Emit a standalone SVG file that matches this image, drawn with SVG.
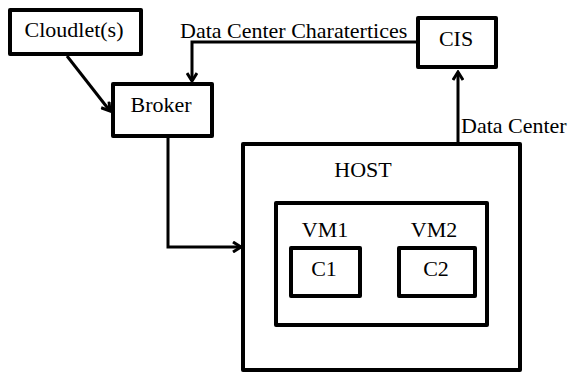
<svg xmlns="http://www.w3.org/2000/svg" width="568" height="374" viewBox="0 0 568 374">
  <style>
    .box { fill: #ffffff; stroke: #000000; stroke-width: 4; stroke-linejoin: round; }
    .lbl { font-size: 22px; fill: #000000; }
    .mid { text-anchor: middle; }
    .wire { fill: none; stroke: #000000; stroke-width: 3; }
  </style>
  <defs>
    <marker id="chev" viewBox="0 0 12 12" refX="10" refY="6" markerWidth="12" markerHeight="12" markerUnits="userSpaceOnUse" orient="auto">
      <path d="M2,1 L10,6 L2,11" fill="none" stroke="#000000" stroke-width="3" stroke-linejoin="miter"/>
    </marker>
  </defs>
  <rect width="568" height="374" fill="#ffffff"/>

  <g id="connectors">
    <!-- Cloudlet(s) to Broker -->
    <path class="wire" d="M67,56 L110,111" marker-end="url(#chev)"/>
    <!-- CIS back to Broker -->
    <path class="wire" d="M417,42 L192,42 L192,81" marker-end="url(#chev)"/>
    <!-- HOST up to CIS -->
    <path class="wire" d="M458,143 L458,72" marker-end="url(#chev)"/>
    <!-- Broker down and into HOST -->
    <path class="wire" d="M168,137 L168,247 L241,247" marker-end="url(#chev)"/>
  </g>

  <g font-family="'Liberation Serif', serif">
    <g id="cloudlet">
      <rect class="box" x="10" y="10" width="131" height="44"/>
      <text class="lbl mid" x="74" y="37">Cloudlet(s)</text>
    </g>

    <g id="broker">
      <rect class="box" x="113" y="84" width="99" height="52"/>
      <text class="lbl mid" x="161" y="112">Broker</text>
    </g>

    <g id="cis">
      <rect class="box" x="418" y="18" width="78" height="49"/>
      <text class="lbl mid" x="456" y="46">CIS</text>
    </g>

    <g id="host">
      <rect class="box" x="243" y="144" width="277" height="226"/>
      <text class="lbl mid" x="363" y="177">HOST</text>
    </g>

    <g id="vm-frame">
      <rect class="box" x="276" y="203" width="211" height="122"/>
    </g>

    <g id="vm1">
      <text class="lbl mid" x="325" y="237">VM1</text>
      <rect class="box" x="291" y="248" width="69" height="48"/>
      <text class="lbl mid" x="324" y="276">C1</text>
    </g>

    <g id="vm2">
      <text class="lbl mid" x="434" y="237">VM2</text>
      <rect class="box" x="399" y="248" width="76" height="48"/>
      <text class="lbl mid" x="436" y="276">C2</text>
    </g>

    <g id="edge-labels">
      <text class="lbl" x="180" y="38">Data Center Charatertices</text>
      <text class="lbl" x="461" y="133">Data Center</text>
    </g>
  </g>
</svg>
